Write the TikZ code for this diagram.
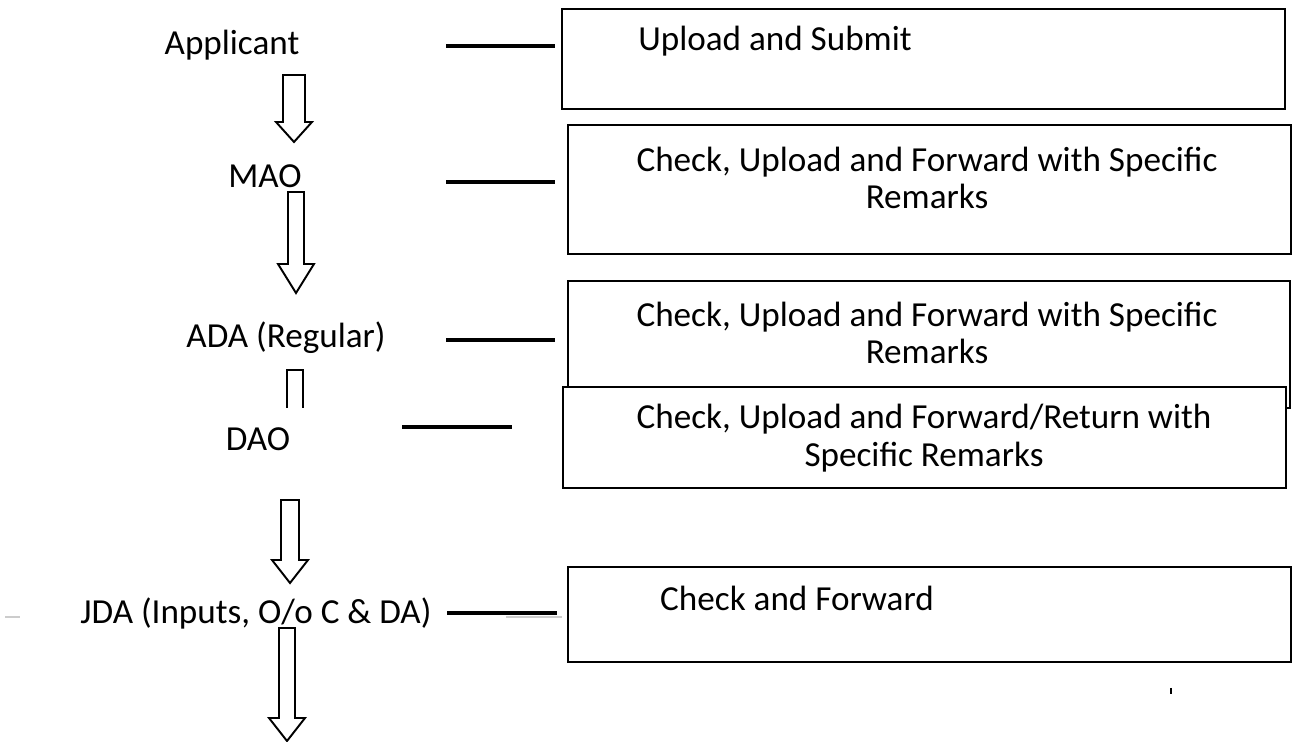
\documentclass[tikz,border=0pt]{standalone}
\usepackage{fontspec}
\setmainfont{Carlito}
\usetikzlibrary{positioning}
\newcommand{\hollowarrow}[6]{% x, half shaft, top, head start, tip, half head
  \draw[blockarr] ({#1-#2},#3) -- ({#1+#2},#3) -- ({#1+#2},#4) -- ({#1+#6},#4)
    -- (#1,#5) -- ({#1-#6},#4) -- ({#1-#2},#4) -- cycle;}
\tikzset{
  role/.style={font=\fontsize{20}{21.5}\selectfont, inner sep=0pt},
  taskbox/.style={draw, line width=1.1pt, inner sep=0pt, anchor=north west},
  tasktext/.style={font=\fontsize{20}{21.5}\selectfont, align=center, inner sep=0pt},
  link/.style={line width=2.3pt},
  blockarr/.style={line width=1.1pt, line join=miter},
}
\begin{document}
\begin{tikzpicture}[x=0.02cm, y=-0.02cm]
  \useasboundingbox (0,0) rectangle (1295,742);

  % roles
  \node[role] (applicant) at (232,45) {Applicant};
  \node[role] (mao) at (265,176) {MAO};
  \node[role] (ada) at (286,338) {ADA (Regular)};
  \node[role] (dao) at (258,439) {DAO};
  \node[role] (jda) at (256,613) {JDA (Inputs, O/o C \& DA)};

  % task boxes
  \node[taskbox, minimum width=723*0.02cm, minimum height=100*0.02cm] (upload) at (561,8) {};
  \node[taskbox, minimum width=723*0.02cm, minimum height=129*0.02cm] (check1) at (567,124) {};
  \node[taskbox, minimum width=722*0.02cm, minimum height=127*0.02cm] (check2) at (567,280) {};
  \node[taskbox, fill=white, minimum width=723*0.02cm, minimum height=101*0.02cm] (check3) at (562,386) {};
  \node[taskbox, minimum width=723*0.02cm, minimum height=95*0.02cm] (forward) at (567,566) {};

  \node[tasktext] (uploadtxt) at (775,41) {Upload and Submit};
  \node[tasktext] (check1txt) at (927,178) {Check, Upload and Forward with Specific\\Remarks};
  \node[tasktext] (check2txt) at (927,333) {Check, Upload and Forward with Specific\\Remarks};
  \node[tasktext] (check3txt) at (924,438) {Check, Upload and Forward/Return with\\Specific Remarks};
  \node[tasktext] (forwardtxt) at (797,598) {Check and Forward};

  % links from roles to boxes
  \coordinate (l1) at (446,46);
  \coordinate (l2) at (446,182);
  \coordinate (l3) at (446,340);
  \coordinate (l4) at (402,427);
  \coordinate (l5) at (447,613);
  \draw[link] (l1) -- ++(109,0);
  \draw[link] (l2) -- ++(109,0);
  \draw[link] (l3) -- ++(109,0);
  \draw[link] (l4) -- ++(110,0);
  \draw[link] (l5) -- ++(110,0);
  \draw[black!20, line width=1.2pt] (506,617) -- (562,617);
  \draw[black!20, line width=1.2pt] (5,617) -- (20,617);
  \draw[line width=0.8pt] (1171,688) -- (1171,694);

  % flow arrows
  \hollowarrow{294}{11}{75}{122}{142}{18}
  \hollowarrow{296}{8}{192}{264}{293}{18}
  \draw[blockarr] (287,408) -- (287,370) -- (303,370) -- (303,408);
  \hollowarrow{290}{9}{500}{560}{583}{18}
  \hollowarrow{287}{8}{628}{718}{741}{18}
\end{tikzpicture}
\end{document}
